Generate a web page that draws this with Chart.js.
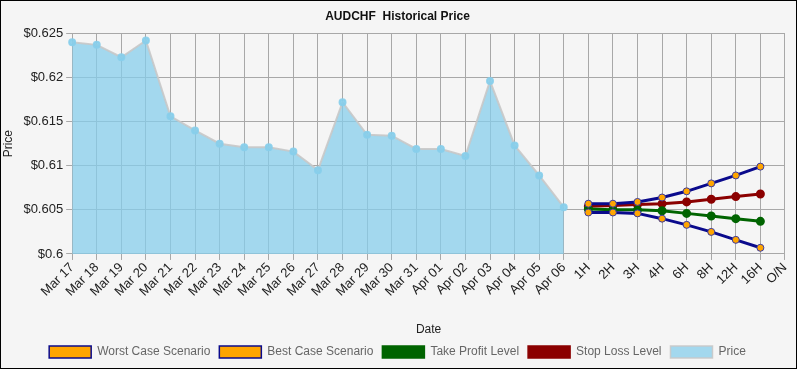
<!DOCTYPE html>
<html>
<head>
<meta charset="utf-8">
<script src="https://cdn.jsdelivr.net/npm/chart.js@4"></script>
<style>
    html, body { margin: 0; padding: 0; background: #f5f5f5; }
    #wrap { width: 797px; height: 369px; box-sizing: border-box; border: 1px solid #000; background: #f5f5f5; }
</style>
</head>
<body>
<div id="wrap"><canvas id="priceChart" width="795" height="367"></canvas></div>
<script>
// categorias do eixo x
const dateLabels = ['Mar 17', 'Mar 18', 'Mar 19', 'Mar 20', 'Mar 21', 'Mar 22', 'Mar 23', 'Mar 24', 'Mar 25', 'Mar 26', 'Mar 27', 'Mar 28', 'Mar 29', 'Mar 30', 'Mar 31', 'Apr 01', 'Apr 02', 'Apr 03', 'Apr 04', 'Apr 05', 'Apr 06'];
const hourLabels = ['1H', '2H', '3H', '4H', '6H', '8H', '12H', '16H', 'O/N'];

// valores
const priceValues = [0.6240, 0.6237, 0.6223, 0.6242, 0.6156, 0.6140, 0.6125, 0.6121, 0.6121, 0.6116, 0.6095, 0.6172, 0.6135, 0.6134, 0.6119, 0.6119, 0.6111, 0.6196, 0.6123, 0.6089, 0.6053];
const worstCase  = [0.6047, 0.6047, 0.6046, 0.6040, 0.6033, 0.6025, 0.6016, 0.6007, null];
const bestCase   = [0.6057, 0.6057, 0.6059, 0.6064, 0.6071, 0.6080, 0.6089, 0.6099, null];
const takeProfit = [0.6051, 0.6050, 0.6050, 0.6049, 0.6046, 0.6043, 0.6040, 0.6037, null];
const stopLoss   = [0.6054, 0.6055, 0.6056, 0.6057, 0.6059, 0.6062, 0.6065, 0.6068, null];

const yTicks = { min: 0.6, max: 0.625, step: 0.005 };

const allLabels = dateLabels.concat(hourLabels);
const padHours = (arr) => dateLabels.map(() => null).concat(arr);
const padDates = (arr) => arr.concat(hourLabels.map(() => null));

document.addEventListener('DOMContentLoaded', function() {
    const el = document.getElementById('priceChart');
    Chart.defaults.font.family = 'Arial, "Liberation Sans", sans-serif';
    Chart.defaults.font.size = 12;

    new Chart(el, {
        type: 'line',
        data: {
            labels: allLabels,
            datasets: [
                {
                    label: 'Worst Case Scenario',
                    data: padHours(worstCase),
                    borderColor: '#0a0a8c',
                    backgroundColor: '#ffa500',
                    borderWidth: 3,
                    pointRadius: 3.5,
                    pointBorderWidth: 1,
                    pointBorderColor: '#3a3aa0',
                    fill: false,
                    tension: 0
                },
                {
                    label: 'Best Case Scenario',
                    data: padHours(bestCase),
                    borderColor: '#0a0a8c',
                    backgroundColor: '#ffa500',
                    borderWidth: 3,
                    pointRadius: 3.5,
                    pointBorderWidth: 1,
                    pointBorderColor: '#3a3aa0',
                    fill: false,
                    tension: 0
                },
                {
                    label: 'Take Profit Level',
                    data: padHours(takeProfit),
                    borderColor: '#006400',
                    backgroundColor: '#006400',
                    borderWidth: 3,
                    pointRadius: 3,
                    fill: false,
                    tension: 0
                },
                {
                    label: 'Stop Loss Level',
                    data: padHours(stopLoss),
                    borderColor: '#8b0000',
                    backgroundColor: '#8b0000',
                    borderWidth: 3,
                    pointRadius: 3,
                    fill: false,
                    tension: 0
                },
                {
                    label: 'Price',
                    data: padDates(priceValues),
                    borderColor: 'rgba(200,200,200,0.9)',
                    backgroundColor: 'rgba(135,206,235,0.75)',
                    pointBackgroundColor: 'rgba(135,206,235,0.9)',
                    pointBorderColor: 'rgba(135,206,235,0.9)',
                    borderWidth: 2,
                    pointRadius: 3,
                    fill: 'origin',
                    tension: 0
                }
            ]
        },
        options: {
            responsive: false,
            animation: false,
            layout: { padding: { left: 0, right: 2, top: 0, bottom: 0 } },
            plugins: {
                title: {
                    display: true,
                    text: 'AUDCHF  Historical Price',
                    color: '#111',
                    font: { size: 12, weight: 'bold' },
                    padding: { top: 8, bottom: 10 }
                },
                legend: {
                    position: 'bottom',
                    labels: {
                        boxWidth: 42,
                        boxHeight: 12,
                        color: '#666',
                        padding: 9,
                        font: { size: 12 },
                        generateLabels: function(chart) {
                            const items = Chart.defaults.plugins.legend.labels.generateLabels(chart);
                            items.forEach(function(it) { it.lineWidth = 1.5; });
                            return items;
                        }
                    }
                },
                tooltip: { enabled: false }
            },
            scales: {
                x: {
                    offset: false,
                    grid: { color: '#a8a8a8', tickLength: 6, drawOnChartArea: true },
                    border: { color: '#a8a8a8' },
                    ticks: { color: '#222', maxRotation: 45, minRotation: 45, autoSkip: false, padding: 0, font: { size: 13 } },
                    title: { display: true, text: 'Date', color: '#222', padding: { top: 23, bottom: 0 } }
                },
                y: {
                    min: yTicks.min,
                    max: yTicks.max,
                    grid: { color: '#a8a8a8', tickLength: 6 },
                    border: { color: '#a8a8a8' },
                    ticks: {
                        stepSize: yTicks.step,
                        color: '#222',
                        padding: 3,
                        font: { size: 13 },
                        callback: function(v) { return '$' + parseFloat(v.toFixed(3)); }
                    },
                    title: { display: true, text: 'Price', color: '#222', padding: { top: 0, bottom: 5 } }
                }
            }
        }
    });
});
</script>
</body>
</html>
